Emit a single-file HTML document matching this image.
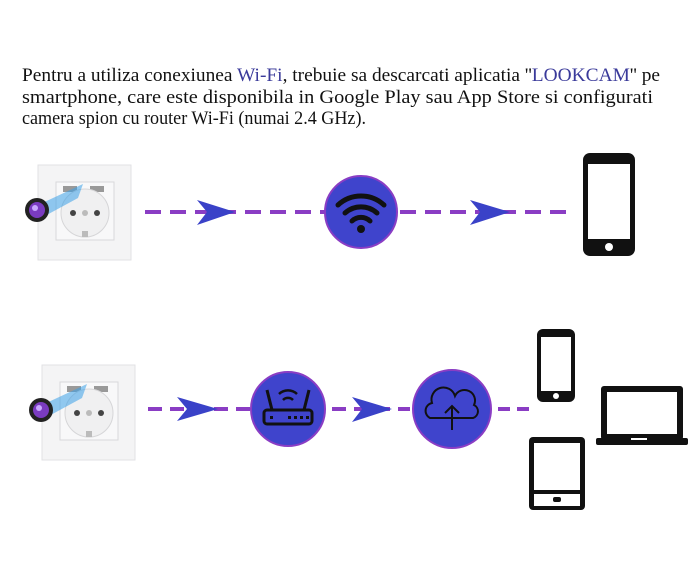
<!DOCTYPE html>
<html><head><meta charset="utf-8"><style>
html,body{margin:0;padding:0;background:#fff;}
svg{display:block;}
text{font-family:"Liberation Serif",serif;font-size:19px;fill:#111;}
</style></head><body>
<svg width="696" height="564" viewBox="0 0 696 564" xmlns="http://www.w3.org/2000/svg">
<defs>
<g id="sock">
  <rect x="0" y="0" width="93" height="95" fill="#f4f4f5" stroke="#e2e2e4"/>
  <rect x="18" y="17" width="58" height="58" fill="#f8f8f9" stroke="#d8d8da"/>
  <rect x="25" y="21" width="14" height="6" fill="#999"/>
  <rect x="52" y="21" width="14" height="6" fill="#999"/>
  <circle cx="47" cy="48" r="24" fill="#f0f0f1" stroke="#d6d6d8"/>
  <circle cx="35" cy="48" r="3" fill="#444"/>
  <circle cx="59" cy="48" r="3" fill="#444"/>
  <circle cx="47" cy="48" r="3" fill="#bbb"/>
  <rect x="44" y="66" width="6" height="6" fill="#bbb"/>
  <polygon points="0,40 45,19 40,33 5,52" fill="#3aa0e8" opacity="0.55"/>
  <circle cx="-1" cy="45" r="12" fill="#222"/>
  <circle cx="-1" cy="45" r="8" fill="#7a3bc0"/>
  <circle cx="-3" cy="43" r="3" fill="#c9a8ff"/>
</g>
<g id="phone">
  <rect x="0" y="0" width="52" height="103" rx="7" fill="#111"/>
  <rect x="5" y="11" width="42" height="75" fill="#fff"/>
  <circle cx="26" cy="94" r="4" fill="#fff"/>
</g>
</defs>

<text x="22" y="81" textLength="638" lengthAdjust="spacingAndGlyphs">Pentru a utiliza conexiunea <tspan fill="#3a3a9a">Wi-Fi</tspan>, trebuie sa descarcati aplicatia ''<tspan fill="#3a3a9a">LOOKCAM</tspan>'' pe</text>
<text x="22" y="103" textLength="631" lengthAdjust="spacingAndGlyphs">smartphone, care este disponibila in Google Play sau App Store si configurati</text>
<text x="22" y="124" textLength="344" lengthAdjust="spacingAndGlyphs">camera spion cu router Wi-Fi (numai 2.4 GHz).</text>

<!-- row 1 -->
<use href="#sock" x="38" y="165"/>
<line x1="145" y1="212" x2="325" y2="212" stroke="#8a3dc4" stroke-width="4" stroke-dasharray="16,9"/>
<polygon points="197,200 235,212 197,225 207,212" fill="#3a42c8"/>
<circle cx="361" cy="212" r="36" fill="#3f44cc" stroke="#8a3dc4" stroke-width="2"/>
<path d="M338,205 A34,34 0 0 1 384,205" fill="none" stroke="#111" stroke-width="5" stroke-linecap="round"/>
<path d="M345,213 A24,24 0 0 1 377,213" fill="none" stroke="#111" stroke-width="5" stroke-linecap="round"/>
<path d="M352,221 A13,13 0 0 1 370,221" fill="none" stroke="#111" stroke-width="5" stroke-linecap="round"/>
<circle cx="361" cy="229" r="4" fill="#111"/>
<line x1="400" y1="212" x2="575" y2="212" stroke="#8a3dc4" stroke-width="4" stroke-dasharray="16,9"/>
<polygon points="470,200 510,212 470,225 480,212" fill="#3a42c8"/>
<use href="#phone" x="583" y="153"/>

<!-- row 2 -->
<use href="#sock" x="42" y="365"/>
<line x1="148" y1="409" x2="250" y2="409" stroke="#8a3dc4" stroke-width="4" stroke-dasharray="14,8"/>
<polygon points="177,397 218,409 177,421 187,409" fill="#3a42c8"/>
<circle cx="288" cy="409" r="37" fill="#3f44cc" stroke="#8a3dc4" stroke-width="2"/>
<rect x="264" y="410" width="48" height="14" rx="3" fill="none" stroke="#111" stroke-width="3"/>
<line x1="272" y1="410" x2="267" y2="390" stroke="#111" stroke-width="3"/>
<line x1="304" y1="410" x2="309" y2="390" stroke="#111" stroke-width="3"/>
<path d="M279,394 A13,13 0 0 1 297,394" fill="none" stroke="#111" stroke-width="2.5"/>
<path d="M283,400 A7,7 0 0 1 293,400" fill="none" stroke="#111" stroke-width="2.5"/>
<g fill="#111"><rect x="270" y="416" width="3" height="3"/><rect x="288" y="416" width="3" height="3"/><rect x="294" y="416" width="3" height="3"/><rect x="300" y="416" width="3" height="3"/><rect x="306" y="416" width="3" height="3"/></g>
<line x1="332" y1="409" x2="410" y2="409" stroke="#8a3dc4" stroke-width="4" stroke-dasharray="14,8"/>
<polygon points="352,397 392,409 352,422 362,409" fill="#3a42c8"/>
<circle cx="452" cy="409" r="39" fill="#3f44cc" stroke="#8a3dc4" stroke-width="2"/>
<path d="M430,418 A8,8 0 0 1 432,403 A12,12 0 0 1 455,396 A10,10 0 0 1 474,405 A7,7 0 0 1 473,418 Z" fill="none" stroke="#111" stroke-width="2"/>
<line x1="452" y1="430" x2="452" y2="406" stroke="#111" stroke-width="2"/>
<polyline points="445,413 452,406 459,413" fill="none" stroke="#111" stroke-width="2"/>
<line x1="498" y1="409" x2="532" y2="409" stroke="#8a3dc4" stroke-width="4" stroke-dasharray="12,7"/>
<rect x="537" y="329" width="38" height="73" rx="6" fill="#111"/>
<rect x="541" y="337" width="30" height="54" fill="#fff"/>
<circle cx="556" cy="396" r="3" fill="#fff"/>
<rect x="601" y="386" width="82" height="54" rx="3" fill="#111"/>
<rect x="607" y="392" width="70" height="42" fill="#fff"/>
<rect x="596" y="438" width="92" height="7" rx="2" fill="#111"/>
<rect x="631" y="438" width="16" height="2" fill="#fff"/>
<rect x="529" y="437" width="56" height="73" rx="4" fill="#111"/>
<rect x="534" y="443" width="46" height="47" fill="#fff"/>
<rect x="534" y="494" width="46" height="12" fill="#fff"/>
<rect x="553" y="497" width="8" height="5" rx="2" fill="#111"/>
</svg>
</body></html>
